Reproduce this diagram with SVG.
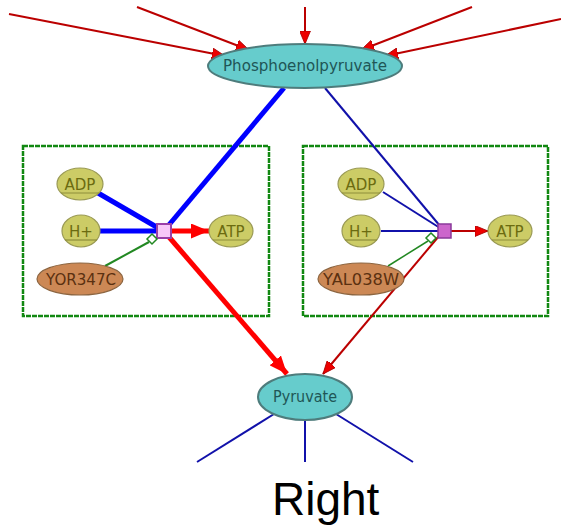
<svg xmlns="http://www.w3.org/2000/svg" width="561" height="526" viewBox="0 0 561 526">
  <style>
    .met { fill: #66cccc; stroke: #4e7c7c; stroke-width: 2; }
    .metT { font-family: "DejaVu Sans", sans-serif; font-size: 15px; fill: #1f5656; text-anchor: middle; }
    .small { fill: #cccc66; stroke: #9a9a55; stroke-width: 1.2; }
    .smallT { font-family: "DejaVu Sans", sans-serif; font-size: 15px; fill: #6b6b10; text-anchor: middle; }
    .clone { stroke: #8d8d3a; stroke-width: 1.2; }
    .enz { fill: #cc8855; stroke: #8c6540; stroke-width: 1.2; }
    .enzT { font-family: "DejaVu Sans", sans-serif; font-size: 15px; fill: #5a3010; text-anchor: middle; }
    .box { fill: none; stroke: #118811; stroke-width: 2.5; stroke-dasharray: 5 1; }
    .inflow { stroke: #bb0000; stroke-width: 2; fill: none; marker-end: url(#arr); }
    .thinRed { stroke: #bb0000; stroke-width: 2; fill: none; }
    .thickRed { stroke: #ff0000; stroke-width: 5; fill: none; }
    .thickBlue { stroke: #0000ff; stroke-width: 5; fill: none; }
    .thinBlue { stroke: #1111aa; stroke-width: 2; fill: none; }
    .cat { stroke: #228822; stroke-width: 2; fill: none; }
    .diam { fill: #ffffff; stroke: #228822; stroke-width: 1.5; }
  </style>
  <defs>
    <marker id="arr" viewBox="0 0 12 10" refX="12" refY="5" markerWidth="13" markerHeight="11" markerUnits="userSpaceOnUse" orient="auto">
      <path d="M0,0 L12,5 L0,10 Z" fill="#ee0000" stroke="#aa0000" stroke-width="0.8"/>
    </marker>
    <marker id="arrBig" viewBox="0 0 12 10" refX="12" refY="5" markerWidth="18" markerHeight="15" markerUnits="userSpaceOnUse" orient="auto">
      <path d="M0,0 L12,5 L0,10 Z" fill="#ff0000"/>
    </marker>
  </defs>

  <!-- compartment boxes -->
  <rect id="boxLeft" class="box" x="23" y="146" width="246" height="170"/>
  <rect id="boxRight" class="box" x="303" y="146" width="245" height="170"/>

  <g id="edges">
    <!-- incoming to phosphoenolpyruvate -->
    <line class="inflow" x1="9" y1="14" x2="225" y2="56"/>
    <line class="inflow" x1="137" y1="7" x2="249" y2="50"/>
    <line class="inflow" x1="305" y1="7" x2="305" y2="44"/>
    <line class="inflow" x1="472" y1="7" x2="361" y2="50"/>
    <line class="inflow" x1="561" y1="19" x2="385" y2="56"/>

    <!-- left reaction (thick) -->
    <line class="thickBlue" x1="284" y1="88" x2="168" y2="226"/>
    <line class="thickBlue" x1="98" y1="193" x2="160" y2="229"/>
    <line class="thickBlue" x1="100" y1="231" x2="160" y2="231"/>
    <line class="thickRed" x1="172" y1="231" x2="209" y2="231" marker-end="url(#arrBig)"/>
    <line class="thickRed" x1="169" y1="237" x2="287" y2="374" marker-end="url(#arrBig)"/>
    <line class="cat" x1="105" y1="266" x2="149" y2="242"/>

    <!-- right reaction (thin) -->
    <line class="thinBlue" x1="325" y1="88" x2="440" y2="226"/>
    <line class="thinBlue" x1="383" y1="192" x2="440" y2="228"/>
    <line class="thinBlue" x1="381" y1="231" x2="440" y2="231"/>
    <line class="thinRed" x1="451" y1="231" x2="488" y2="231" marker-end="url(#arr)"/>
    <line class="thinRed" x1="439" y1="236" x2="323" y2="374" marker-end="url(#arr)"/>
    <line class="cat" x1="388" y1="266" x2="428" y2="241" style="stroke-width:1.5"/>

    <!-- outgoing from pyruvate -->
    <line class="thinBlue" x1="274" y1="414" x2="197" y2="462"/>
    <line class="thinBlue" x1="305" y1="420" x2="305" y2="462"/>
    <line class="thinBlue" x1="336" y1="414" x2="413" y2="462"/>
  </g>

  <!-- process markers -->
  <g id="procLeft">
    <rect x="157" y="224" width="14" height="14" fill="#f8c8f8" stroke="#9a40a8" stroke-width="2"/>
    <path class="diam" d="M152,234 L157,239 L152,244 L147,239 Z"/>
  </g>
  <g id="procRight">
    <rect x="438" y="224" width="13" height="14" fill="#cc66cc" stroke="#8a3a9a" stroke-width="1.5"/>
    <path class="diam" d="M431,233 L436,238 L431,243 L426,238 Z"/>
  </g>

  <!-- metabolites -->
  <g id="pep">
    <ellipse class="met" cx="305" cy="66" rx="97" ry="22"/>
    <text class="metT" x="305" y="71" textLength="164" lengthAdjust="spacingAndGlyphs">Phosphoenolpyruvate</text>
  </g>
  <g id="pyruvate">
    <ellipse class="met" cx="305" cy="397" rx="47" ry="23"/>
    <text class="metT" x="305" y="402" textLength="64" lengthAdjust="spacingAndGlyphs">Pyruvate</text>
  </g>

  <g id="adpLeft">
    <ellipse class="small" cx="80" cy="184" rx="23" ry="16"/>
    <line class="clone" x1="61" y1="193" x2="99" y2="193"/>
    <text class="smallT" x="80" y="190">ADP</text>
  </g>
  <g id="hLeft">
    <ellipse class="small" cx="81" cy="231" rx="19" ry="16"/>
    <line class="clone" x1="65" y1="240" x2="97" y2="240"/>
    <text class="smallT" x="81" y="237">H+</text>
  </g>
  <g id="atpLeft">
    <ellipse class="small" cx="231" cy="231" rx="22" ry="16"/>
    <line class="clone" x1="213" y1="240" x2="249" y2="240"/>
    <text class="smallT" x="231" y="237">ATP</text>
  </g>
  <g id="yor347c">
    <ellipse class="enz" cx="80" cy="279" rx="43" ry="16"/>
    <text class="enzT" x="81" y="285" textLength="70" lengthAdjust="spacingAndGlyphs">YOR347C</text>
  </g>

  <g id="adpRight">
    <ellipse class="small" cx="361" cy="184" rx="23" ry="16"/>
    <line class="clone" x1="342" y1="193" x2="380" y2="193"/>
    <text class="smallT" x="361" y="190">ADP</text>
  </g>
  <g id="hRight">
    <ellipse class="small" cx="361" cy="231" rx="19" ry="16"/>
    <line class="clone" x1="345" y1="240" x2="377" y2="240"/>
    <text class="smallT" x="361" y="237">H+</text>
  </g>
  <g id="atpRight">
    <ellipse class="small" cx="510" cy="231" rx="22" ry="16"/>
    <line class="clone" x1="492" y1="240" x2="528" y2="240"/>
    <text class="smallT" x="510" y="237">ATP</text>
  </g>
  <g id="yal038w">
    <ellipse class="enz" cx="361" cy="279" rx="43" ry="16"/>
    <text class="enzT" x="361" y="285" textLength="76" lengthAdjust="spacingAndGlyphs">YAL038W</text>
  </g>

  <text id="caption" x="272" y="515" font-family="Liberation Sans, Arial, sans-serif" font-size="46" fill="#000000">Right</text>
</svg>
